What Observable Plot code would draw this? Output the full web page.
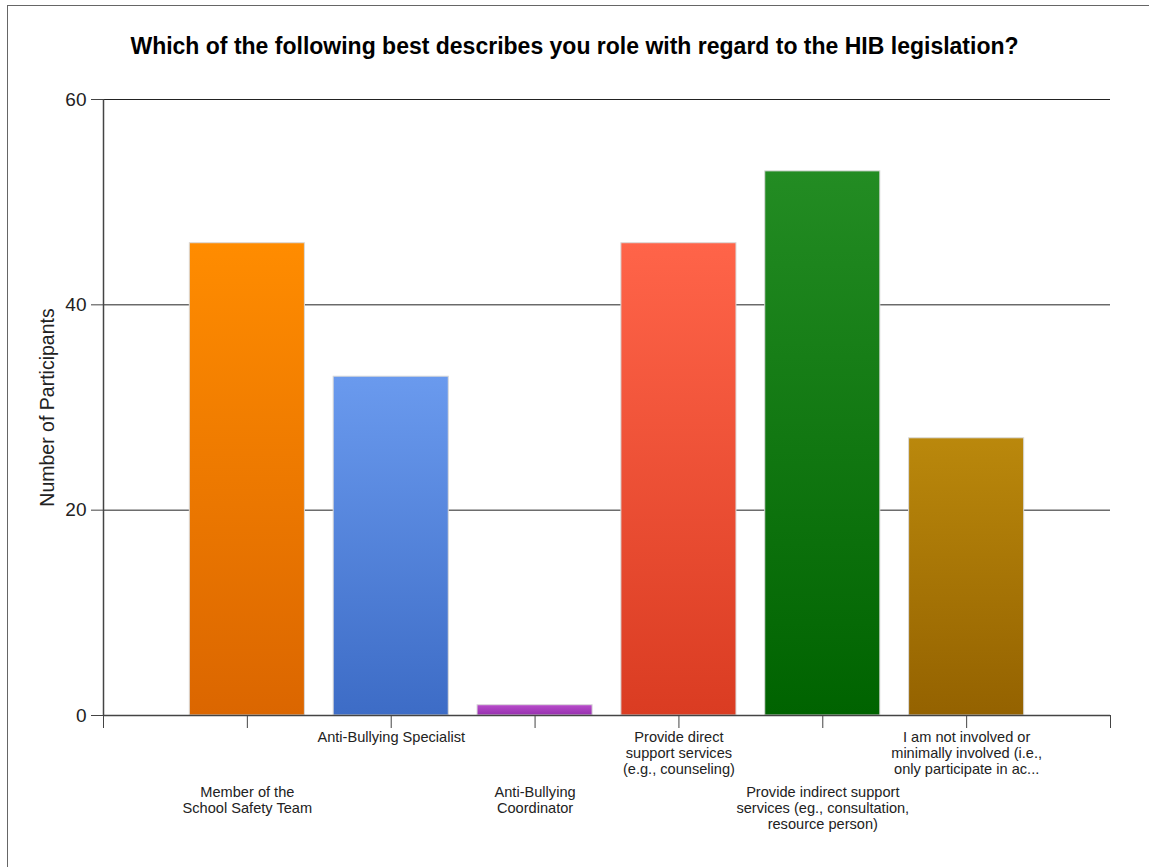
<!DOCTYPE html>
<html>
<head>
<meta charset="utf-8">
<script src="https://cdn.jsdelivr.net/npm/d3@7"></script>
<script src="https://cdn.jsdelivr.net/npm/@observablehq/plot@0.6"></script>
<style>
  html, body { margin: 0; padding: 0; background: #fff; }
  #wrap { position: relative; width: 1149px; height: 867px; overflow: hidden; }
  #frame { position: absolute; left: 7px; top: 5px; right: -5px; bottom: -5px;
           border-left: 1px solid #666; border-top: 1px solid #666; pointer-events: none; }
  #title { height: 70px; box-sizing: border-box; padding-top: 35px; text-align: center;
           font: bold 23px "Liberation Sans", Arial, sans-serif; line-height: 23px; color: #000; }
  #chart svg { display: block; }
</style>
</head>
<body>
<div id="wrap">
  <div id="title">Which of the following best describes you role with regard to the HIB legislation?</div>
  <div id="chart"></div>
  <div id="frame"></div>
</div>
<script>
// ---- data ----
const categories = [
  "Member of the\nSchool Safety Team",
  "Anti-Bullying Specialist",
  "Anti-Bullying\nCoordinator",
  "Provide direct\nsupport services\n(e.g., counseling)",
  "Provide indirect support\nservices (eg., consultation,\nresource person)",
  "I am not involved or\nminimally involved (i.e.,\nonly participate in ac..."
];
const counts = [46, 33, 1, 46, 53, 27];
const yTicks = [0, 20, 40, 60];
const yLabel = "Number of Participants";

// ---- styles ----
const gradientStops = [
  ["#FF8C00", "#DB6600"],
  ["#6A9AEE", "#3D6CC6"],
  ["#B84CCB", "#9630AE"],
  ["#FF6449", "#DA3C22"],
  ["#238C23", "#006300"],
  ["#BA880C", "#946200"]
];

const rows = categories.map((label, i) => ({ i, pos: i + 1, label, count: counts[i] }));

const gradientDefs = () => {
  const ns = "http://www.w3.org/2000/svg";
  const defs = document.createElementNS(ns, "defs");
  gradientStops.forEach(([top, bottom], i) => {
    const g = document.createElementNS(ns, "linearGradient");
    g.setAttribute("id", "bargrad" + i);
    g.setAttribute("x1", "0"); g.setAttribute("y1", "0");
    g.setAttribute("x2", "0"); g.setAttribute("y2", "1");
    [[0, top], [1, bottom]].forEach(([off, c]) => {
      const s = document.createElementNS(ns, "stop");
      s.setAttribute("offset", off);
      s.setAttribute("stop-color", c);
      g.appendChild(s);
    });
    defs.appendChild(g);
  });
  return defs;
};

const chart = Plot.plot({
  width: 1149,
  height: 790,
  marginTop: 29,
  marginBottom: 145,
  marginLeft: 103,
  marginRight: 39,
  style: { fontFamily: "'Liberation Sans', Arial, sans-serif", color: "#222", background: "#fff" },
  x: { type: "linear", domain: [0, categories.length + 1], axis: null },
  y: { domain: [0, 60], axis: null },
  color: { type: "identity" },
  marks: [
    gradientDefs,
    Plot.ruleY(yTicks.filter(t => t > 0), { stroke: "#222", strokeWidth: 1 }),
    Plot.axisY({ ticks: yTicks, tickSize: 12, tickPadding: 5, fontSize: 19, stroke: "#444", label: null }),
    Plot.rect(rows, {
      x1: d => d.pos - 0.4,
      x2: d => d.pos + 0.4,
      y1: () => 0,
      y2: "count",
      fill: d => `url(#bargrad${d.i})`,
      stroke: "#d9d9d9",
      strokeWidth: 1
    }),
    Plot.ruleY([0], { stroke: "#444", strokeWidth: 1.5 }),
    Plot.ruleX([0], { stroke: "#444", strokeWidth: 1.5 }),
    Plot.axisX({ ticks: d3.range(0, categories.length + 2), tickFormat: () => "", tickSize: 13, stroke: "#444", label: null }),
    Plot.text(rows, {
      filter: d => d.i % 2 === 1,
      x: "pos", y: () => 0, text: "label",
      lineAnchor: "top", dy: 15, fontSize: 14.6, lineHeight: 1.1, fill: "#222"
    }),
    Plot.text(rows, {
      filter: d => d.i % 2 === 0,
      x: "pos", y: () => 0, text: "label",
      lineAnchor: "top", dy: 70, fontSize: 14.6, lineHeight: 1.1, fill: "#222"
    }),
    Plot.text([yLabel], {
      frameAnchor: "left", textAnchor: "middle", rotate: -90, dx: -56, fontSize: 19.5, fill: "#222"
    })
  ]
});
document.getElementById("chart").appendChild(chart);
</script>
</body>
</html>
